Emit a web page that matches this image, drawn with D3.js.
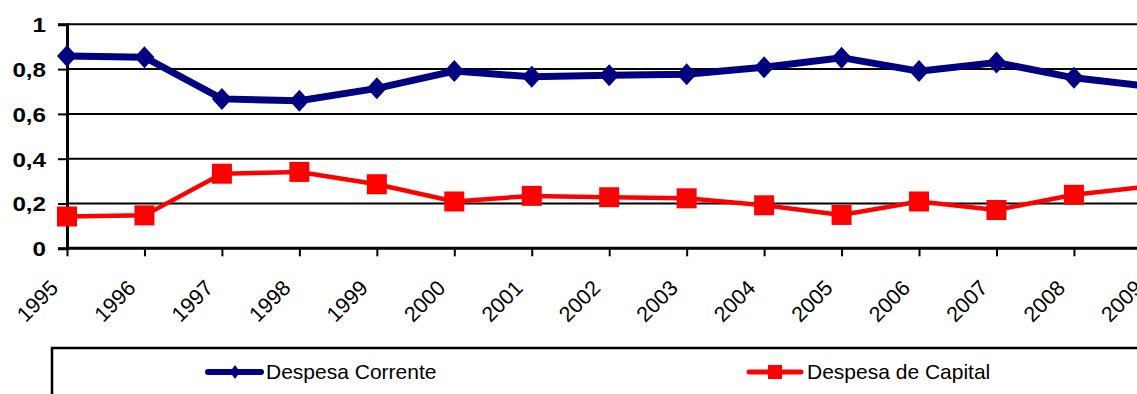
<!DOCTYPE html>
<html>
<head>
<meta charset="utf-8">
<script src="https://cdn.jsdelivr.net/npm/d3@7"></script>
<style>
  html, body { margin: 0; padding: 0; background: #fff; }
  svg { display: block; font-family: "Liberation Sans", Arial, sans-serif; }
</style>
</head>
<body>
<svg id="chart" width="1137" height="394"></svg>
<script>
// Share of total expenditure, current vs capital
const years = [1995, 1996, 1997, 1998, 1999, 2000, 2001, 2002, 2003, 2004, 2005, 2006, 2007, 2008, 2009];
const despesaCorrente = [0.858, 0.853, 0.667, 0.659, 0.714, 0.791, 0.766, 0.772, 0.777, 0.808, 0.851, 0.791, 0.829, 0.761, 0.722];
const despesaCapital  = [0.142, 0.147, 0.333, 0.341, 0.286, 0.209, 0.234, 0.228, 0.223, 0.192, 0.149, 0.209, 0.171, 0.239, 0.278];
const yTicks = [0, 0.2, 0.4, 0.6, 0.8, 1];
const seriesNames = ["Despesa Corrente", "Despesa de Capital"];

const svg = d3.select("#chart");
const W = 1137;
const FONT = "'Liberation Sans', Arial, sans-serif";

const x = d3.scaleLinear().domain([1995, 2009]).range([67, 1151.4]);
const y = d3.scaleLinear().domain([0, 1]).range([248.3, 24.3]);

const fmt = v => String(v).replace(".", ",");

// horizontal gridlines
svg.append("g")
  .selectAll("line")
  .data(yTicks.filter(d => d > 0))
  .join("line")
  .attr("x1", x(1995)).attr("x2", W)
  .attr("y1", d => y(d)).attr("y2", d => y(d))
  .attr("stroke", "#000").attr("stroke-width", 2);

// y axis
const yAxis = svg.append("g")
  .attr("transform", `translate(${x(1995)},0)`)
  .call(d3.axisLeft(y).tickValues(yTicks).tickFormat(fmt).tickSize(9));
yAxis.select(".domain").attr("stroke", "#000").attr("stroke-width", 3);
yAxis.selectAll(".tick line").attr("stroke", "#000").attr("stroke-width", 2);
yAxis.selectAll(".tick text")
  .attr("x", 0).attr("dy", "0.36em")
  .attr("transform", "translate(-21,0) scale(1.18,1)")
  .attr("font-size", 20.5).attr("font-weight", "bold")
  .attr("font-family", FONT)
  .attr("fill", "#000");

// x axis
const xAxis = svg.append("g")
  .attr("transform", `translate(0,${y(0)})`)
  .call(d3.axisBottom(x).tickValues(years).tickFormat(d3.format("d")).tickSize(8).tickSizeOuter(0));
xAxis.select(".domain").attr("stroke", "#000").attr("stroke-width", 3).attr("d", `M${x(1995)},0H${W + 20}`);
xAxis.selectAll(".tick line").attr("stroke", "#000").attr("stroke-width", 2);
xAxis.selectAll(".tick text")
  .attr("font-size", 21.5)
  .attr("font-family", FONT)
  .attr("fill", "#000")
  .attr("text-anchor", "end")
  .attr("dy", 0)
  .attr("y", 0)
  .attr("transform", "translate(-8,41) rotate(-45)");

const line = d3.line().x((d, i) => x(years[i])).y(d => y(d));

// Despesa de Capital (red, squares)
svg.append("path")
  .datum(despesaCapital)
  .attr("d", line)
  .attr("fill", "none").attr("stroke", "#ff0000").attr("stroke-width", 4.5);
svg.append("g")
  .selectAll("rect")
  .data(despesaCapital)
  .join("rect")
  .attr("x", (d, i) => x(years[i]) - 10)
  .attr("y", d => y(d) - 10)
  .attr("width", 20).attr("height", 20)
  .attr("fill", "#ff0000");

// Despesa Corrente (navy, diamonds)
svg.append("path")
  .datum(despesaCorrente)
  .attr("d", line)
  .attr("fill", "none").attr("stroke", "#000080").attr("stroke-width", 7);
svg.append("g")
  .selectAll("path")
  .data(despesaCorrente)
  .join("path")
  .attr("transform", (d, i) => `translate(${x(years[i])},${y(d)})`)
  .attr("d", "M0,-11L10,0L0,11L-10,0Z")
  .attr("fill", "#000080");

// legend
const legend = svg.append("g");
legend.append("rect")
  .attr("x", 52).attr("y", 348).attr("width", 1200).attr("height", 100)
  .attr("fill", "#fff").attr("stroke", "#000").attr("stroke-width", 2.5);

const ly = 372;
// entry 1
legend.append("line")
  .attr("x1", 208).attr("x2", 261).attr("y1", ly).attr("y2", ly)
  .attr("stroke", "#000080").attr("stroke-width", 6).attr("stroke-linecap", "round");
legend.append("path")
  .attr("transform", `translate(235,${ly})`)
  .attr("d", "M0,-7L5,0L0,7L-5,0Z")
  .attr("fill", "#000080");
legend.append("text")
  .attr("x", 266).attr("y", ly).attr("dy", "0.35em")
  .attr("font-size", 21).attr("fill", "#000")
  .text(seriesNames[0]);
// entry 2
legend.append("line")
  .attr("x1", 749).attr("x2", 801).attr("y1", ly).attr("y2", ly)
  .attr("stroke", "#ff0000").attr("stroke-width", 5).attr("stroke-linecap", "round");
legend.append("rect")
  .attr("x", 768).attr("y", ly - 7).attr("width", 14).attr("height", 14)
  .attr("fill", "#ff0000");
legend.append("text")
  .attr("x", 807).attr("y", ly).attr("dy", "0.35em")
  .attr("font-size", 21).attr("fill", "#000")
  .text(seriesNames[1]);
</script>
</body>
</html>
